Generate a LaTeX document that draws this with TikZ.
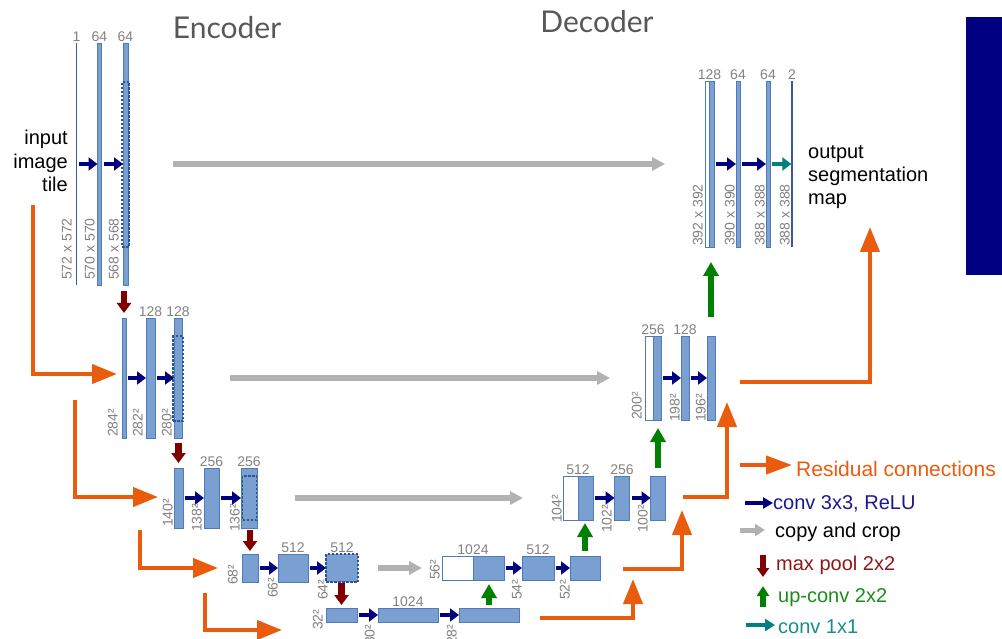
\documentclass[tikz,border=0pt]{standalone}
\usepackage{fontspec}
\setmainfont{Liberation Sans}
\newfontfamily\titlefont{Lato}
\usetikzlibrary{arrows.meta}

\definecolor{barfill}{RGB}{122,160,210}
\definecolor{barline}{RGB}{79,124,185}
\definecolor{cropline}{RGB}{40,85,150}
\definecolor{thinline}{RGB}{55,90,150}
\definecolor{convblue}{RGB}{0,0,128}
\definecolor{copygray}{RGB}{178,178,178}
\definecolor{poolred}{RGB}{128,0,0}
\definecolor{upgreen}{RGB}{0,128,0}
\definecolor{oneteal}{RGB}{0,128,128}
\definecolor{resorange}{RGB}{234,92,13}
\definecolor{labelgray}{RGB}{130,130,130}
\definecolor{titlegray}{RGB}{88,88,88}

\tikzset{
    bar/.style={draw=barline, fill=barfill, line width=0.8pt, inner sep=0pt, outer sep=0pt},
    copybar/.style={draw=barline, fill=white, line width=0.8pt, inner sep=0pt, outer sep=0pt},
    thinbar/.style={fill=thinline, minimum width=1.3pt, inner sep=0pt, outer sep=0pt},
    cropbox/.style={draw=cropline, dash pattern=on 2.5pt off 1.5pt, line width=1.4pt, inner sep=0pt, outer sep=0pt},
    chan/.style={text=labelgray, font=\fontsize{14}{16}\selectfont, inner sep=1.5pt, anchor=south},
    dimlabel/.style={text=labelgray, font=\fontsize{14}{16}\selectfont, inner sep=0pt, rotate=90, anchor=south west},
    convarr/.style={draw=convblue, line width=4.5pt, -{Triangle[length=9pt,width=13pt]}, shorten <=2pt},
    onearr/.style={draw=oneteal, line width=4.5pt, -{Triangle[length=9pt,width=13pt]}, shorten <=2pt},
    copyarr/.style={draw=copygray, line width=6pt, -{Triangle[length=13pt,width=13pt]}},
    poolarr/.style={draw=poolred, line width=6.5pt, -{Triangle[length=10pt,width=14pt]}},
    uparr/.style={draw=upgreen, line width=6.5pt, -{Triangle[length=14pt,width=15pt]}},
    resarr/.style={draw=resorange, line width=4pt, -{Triangle[length=25pt,width=19pt]}},
    legtext/.style={font=\fontsize{20}{24}\selectfont, inner sep=0pt, anchor=base west},
    headtext/.style={text=titlegray, font=\titlefont\fontsize{30}{34}\selectfont, inner sep=0pt}
}

\begin{document}
\begin{tikzpicture}[x=1pt,y=-1pt]
    \path[use as bounding box, fill=white] (0,0) rectangle (1002,639);

    % Titles
    \node[headtext] (enc) at (227,28) {Encoder};
    \node[headtext] (dec) at (597,22) {Decoder};
    \fill[convblue] (966,17) rectangle (1002,275);

    % Level 1
    % Bars
    \node[thinbar, minimum height=242pt] (e11) at (76.5,164) {};
    \node[bar, minimum width=4pt, minimum height=242pt] (e12) at (99.5,164) {};
    \node[bar, minimum width=5pt, minimum height=242pt] (e13) at (125.5,164) {};
    \node[cropbox, minimum width=7pt, minimum height=165pt] (k1) at (125.5,164.5) {};
    \node[copybar, minimum width=4.5pt, minimum height=166pt] (d11w) at (707.3,164) {};
    \node[bar, minimum width=4.5pt, minimum height=166pt] (d11) at (711.8,164) {};
    \node[bar, minimum width=4pt, minimum height=166pt] (d12) at (738,164) {};
    \node[bar, minimum width=4pt, minimum height=166pt] (d13) at (768,164) {};
    \node[thinbar, minimum height=166pt] (d14) at (792,164) {};

    % Labels
    \node[chan] (n11) at (e11.north) {1};
    \node[chan] (n12) at (e12.north) {64};
    \node[chan] (n13) at (e13.north) {64};
    \node[chan] (m11) at (d11w.north east) {128};
    \node[chan] (m12) at (d12.north) {64};
    \node[chan] (m13) at (d13.north) {64};
    \node[chan] (m14) at (d14.north) {2};
    \node[dimlabel] (s11) at (72,280) {572 x 572};
    \node[dimlabel] (s12) at (95,280) {570 x 570};
    \node[dimlabel] (s13) at (119,280) {568 x 568};
    \node[dimlabel] (t11) at (703,246) {392 x 392};
    \node[dimlabel] (t12) at (735,246) {390 x 390};
    \node[dimlabel] (t13) at (765,246) {388 x 388};
    \node[dimlabel] (t14) at (790,246) {388 x 388};
    \node[font=\fontsize{20}{23.5}\selectfont, align=right, anchor=east, inner sep=0pt] (inp) at (68,161) {input\\image\\tile};
    \node[font=\fontsize{20}{23}\selectfont, align=left, anchor=west, inner sep=0pt] (outp) at (808,177) {output\\segmentation\\map};

    % Edges
    \draw[convarr] (e11.east) -- (e12.west);
    \draw[convarr] (e12.east) -- (e13.west);
    \draw[convarr] (d11.east) -- (d12.west);
    \draw[convarr] (d12.east) -- (d13.west);
    \draw[onearr] (d13.east) -- (d14.west);
    \draw[copyarr, shorten <=45pt, shorten >=40pt] (e13.east) -- (d11w.west);

    % Level 2
    % Bars
    \node[bar, minimum width=4pt, minimum height=120pt] (e21) at (124,378) {};
    \node[bar, minimum width=9pt, minimum height=120pt] (e22) at (150.5,378) {};
    \node[bar, minimum width=8pt, minimum height=120pt] (e23) at (178,378) {};
    \node[cropbox, minimum width=10pt, minimum height=85pt] (k2) at (178,378.5) {};
    \node[copybar, minimum width=8pt, minimum height=84pt] (d21w) at (649,378) {};
    \node[bar, minimum width=8pt, minimum height=84pt] (d21) at (657,378) {};
    \node[bar, minimum width=8pt, minimum height=84pt] (d22) at (685,378) {};
    \node[bar, minimum width=8pt, minimum height=84pt] (d23) at (711,378) {};

    % Labels
    \node[chan] (n22) at (e22.north) {128};
    \node[chan] (n23) at (e23.north) {128};
    \node[chan] (m21) at (d21w.north east) {256};
    \node[chan] (m22) at (d22.north) {128};
    \node[dimlabel] (s21) at (118,437) {284²};
    \node[dimlabel] (s22) at (143,437) {282²};
    \node[dimlabel] (s23) at (172,437) {280²};
    \node[dimlabel] (t21) at (642,420) {200²};
    \node[dimlabel] (t22) at (680,422) {198²};
    \node[dimlabel] (t23) at (706,422) {196²};

    % Edges
    \draw[poolarr, shorten <=6pt, shorten >=5pt] (e21.north |- e13.south) -- (e21.north);
    \draw[convarr] (e21.east) -- (e22.west);
    \draw[convarr] (e22.east) -- (e23.west);
    \draw[convarr] (d21.east) -- (d22.west);
    \draw[convarr] (d22.east) -- (d23.west);
    \draw[uparr, shorten <=19pt, shorten >=15pt] (d23.north) -- (d23.north |- d11.south);
    \draw[copyarr, shorten <=48pt, shorten >=35pt] (e23.east) -- (d21w.west);

    % Level 3
    % Bars
    \node[bar, minimum width=9pt, minimum height=60pt] (e31) at (178.5,498) {};
    \node[bar, minimum width=15pt, minimum height=60pt] (e32) at (211.5,498) {};
    \node[bar, minimum width=16pt, minimum height=60pt] (e33) at (249,498) {};
    \node[cropbox, minimum width=14pt, minimum height=44pt] (k3) at (249.5,498) {};
    \node[copybar, minimum width=15pt, minimum height=44pt] (d31w) at (570.5,498) {};
    \node[bar, minimum width=15pt, minimum height=44pt] (d31) at (585.5,498) {};
    \node[bar, minimum width=15pt, minimum height=44pt] (d32) at (622,498) {};
    \node[bar, minimum width=15pt, minimum height=44pt] (d33) at (658,498) {};

    % Labels
    \node[chan] (n32) at (e32.north) {256};
    \node[chan] (n33) at (e33.north) {256};
    \node[chan] (m31) at (d31w.north east) {512};
    \node[chan] (m32) at (d32.north) {256};
    \node[dimlabel] (s31) at (173,527) {140²};
    \node[dimlabel] (s32) at (202,532) {138²};
    \node[dimlabel] (s33) at (240,532) {136²};
    \node[dimlabel] (t31) at (562,523) {104²};
    \node[dimlabel] (t32) at (612,533) {102²};
    \node[dimlabel] (t33) at (648,533) {100²};

    % Edges
    \draw[poolarr, shorten <=5pt, shorten >=5pt] (e31.north |- e23.south) -- (e31.north);
    \draw[convarr] (e31.east) -- (e32.west);
    \draw[convarr] (e32.east) -- (e33.west);
    \draw[convarr] (d31.east) -- (d32.west);
    \draw[convarr] (d32.east) -- (d33.west);
    \draw[uparr, shorten <=8pt, shorten >=8pt] (d33.north) -- (d33.north |- d21.south);
    \draw[copyarr, shorten <=38pt, shorten >=40pt] (e33.east) -- (d31w.west);

    % Level 4
    % Bars
    \node[bar, minimum width=16pt, minimum height=28pt] (e41) at (250,568) {};
    \node[bar, minimum width=30pt, minimum height=28pt] (e42) at (293,568) {};
    \node[bar, cropbox, minimum width=32pt, minimum height=28pt] (e43) at (342,568) {};
    \node[copybar, minimum width=31pt, minimum height=24pt] (d41w) at (457.5,568) {};
    \node[bar, minimum width=31pt, minimum height=24pt] (d41) at (488.5,568) {};
    \node[bar, minimum width=32pt, minimum height=24pt] (d42) at (538,568) {};
    \node[bar, minimum width=30pt, minimum height=24pt] (d43) at (585,568) {};

    % Labels
    \node[chan] (n42) at (e42.north) {512};
    \node[chan] (n43) at (e43.north) {512};
    \node[chan] (m41) at (d41w.north east) {1024};
    \node[chan] (m42) at (d42.north) {512};
    \node[dimlabel] (s41) at (238,585) {68²};
    \node[dimlabel] (s42) at (278,598) {66²};
    \node[dimlabel] (s43) at (328,600) {64²};
    \node[dimlabel] (t41) at (440,580) {56²};
    \node[dimlabel] (t42) at (522,600) {54²};
    \node[dimlabel] (t43) at (570,600) {52²};

    % Edges
    \draw[poolarr, shorten <=2pt, shorten >=3pt] (e41.north |- e33.south) -- (e41.north);
    \draw[convarr] (e41.east) -- (e42.west);
    \draw[convarr] (e42.east) -- (e43.west);
    \draw[convarr] (d41.east) -- (d42.west);
    \draw[convarr] (d42.east) -- (d43.west);
    \draw[uparr, shorten <=5pt, shorten >=3pt] (d43.north) -- (d43.north |- d31.south);
    \draw[copyarr, shorten <=20pt, shorten >=20pt] (e43.east) -- (d41w.west);

    % Level 5
    % Bars
    \node[bar, minimum width=31pt, minimum height=14pt] (b1) at (341.5,615) {};
    \node[bar, minimum width=60pt, minimum height=14pt] (b2) at (408,615) {};
    \node[bar, minimum width=60pt, minimum height=14pt] (b3) at (489,615) {};

    % Labels
    \node[chan] (n52) at (b2.north) {1024};
    \node[dimlabel] (s51) at (323,630) {32²};
    \node[dimlabel] (s52) at (375,645) {30²};
    \node[dimlabel] (s53) at (457,645) {28²};

    % Edges
    \draw[poolarr, shorten <=1pt, shorten >=3pt] (b1.north |- e43.south) -- (b1.north);
    \draw[convarr] (b1.east) -- (b2.west);
    \draw[convarr] (b2.east) -- (b3.west);
    \draw[uparr, shorten <=3pt, shorten >=4pt] (b3.north) -- (b3.north |- d41.south);

    % Residual connections
    \coordinate (r1s) at (33,205);   \coordinate (r1e) at (117,374);
    \coordinate (r2s) at (75,400);   \coordinate (r2e) at (158,497);
    \coordinate (r3s) at (140,530);  \coordinate (r3e) at (218,568);
    \coordinate (r4s) at (205,593);  \coordinate (r4e) at (282,630);
    \coordinate (r5s) at (540,618);  \coordinate (r5e) at (633,579);
    \coordinate (r6s) at (623,569);  \coordinate (r6e) at (682,510);
    \coordinate (r7s) at (683,497);  \coordinate (r7e) at (727,402);
    \coordinate (r8s) at (740,382);  \coordinate (r8e) at (870,227);
    \draw[resarr] (r1s) |- (r1e);
    \draw[resarr] (r2s) |- (r2e);
    \draw[resarr] (r3s) |- (r3e);
    \draw[resarr] (r4s) |- (r4e);
    \draw[resarr] (r5s) -| (r5e);
    \draw[resarr] (r6s) -| (r6e);
    \draw[resarr] (r7s) -| (r7e);
    \draw[resarr] (r8s) -| (r8e);

    % Legend
    \node[legtext, text=resorange, font=\fontsize{21}{24}\selectfont] (lres) at (796,476) {Residual connections};
    \node[legtext, text=convblue!90!white] (lconv) at (773,509) {conv 3x3, ReLU};
    \node[legtext, text=black] (lcopy) at (775,537) {copy and crop};
    \node[legtext, text=poolred!90!white] (lpool) at (776,570) {max pool 2x2};
    \node[legtext, text=upgreen!90!white] (lup) at (778,602) {up-conv 2x2};
    \node[legtext, text=oneteal!90!white] (lone) at (778,633) {conv 1x1};
    \coordinate (g1) at (740,465);
    \coordinate (g2) at (745,503);
    \coordinate (g3) at (740,530);
    \coordinate (g4a) at (763,555);  \coordinate (g4b) at (763,577);
    \coordinate (g5a) at (763,607);  \coordinate (g5b) at (763,586);
    \coordinate (g6) at (746,625);
    \draw[resarr, -{Triangle[length=26pt,width=18pt]}, shorten >=4pt] (g1) -- (g1 -| lres.west);
    \draw[convarr, shorten <=0pt, -{Triangle[length=10pt,width=11pt]}] (g2) -- (g2 -| lconv.west);
    \draw[copyarr, line width=5pt, -{Triangle[length=10pt,width=12pt]}, shorten >=10pt] (g3) -- (g3 -| lcopy.west);
    \draw[poolarr, line width=5.5pt, -{Triangle[length=9pt,width=12pt]}] (g4a) -- (g4b);
    \draw[uparr, line width=5.5pt, -{Triangle[length=10pt,width=12pt]}] (g5a) -- (g5b);
    \draw[onearr, shorten <=0pt, -{Triangle[length=10pt,width=12pt]}, shorten >=3pt] (g6) -- (g6 -| lone.west);
\end{tikzpicture}
\end{document}
